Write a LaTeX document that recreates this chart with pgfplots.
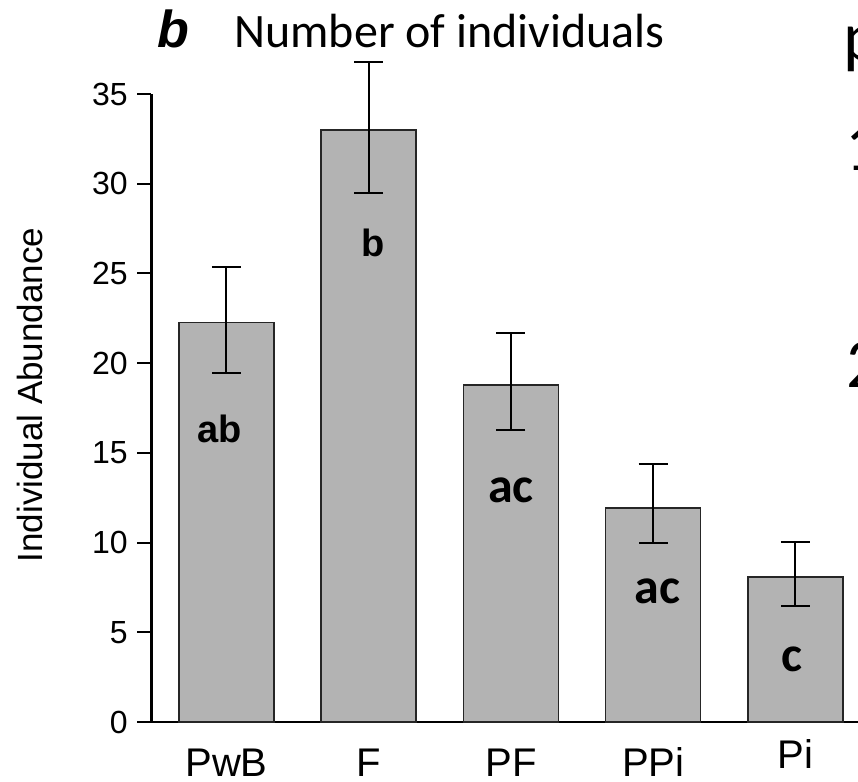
\documentclass[border=0pt]{standalone}
\usepackage{fontspec}
\setmainfont{Liberation Sans}
\newfontfamily\carlito{Carlito}
\usepackage{pgfplots}
\pgfplotsset{compat=1.18}
\definecolor{barfill}{RGB}{179,179,179}
\begin{document}
\begin{tikzpicture}
\useasboundingbox (0,0) rectangle (429pt,-391pt);
\begin{axis}[
  at={(75.75pt,-361pt)}, anchor=south west,
  scale only axis, width=364.6pt, height=314pt,
  xmin=-0.527, xmax=4.6, ymin=0, ymax=35,
  clip=false,
  axis x line=bottom, axis y line=left,
  axis line style={-, line width=1.1pt, black},
  xtick={0,1,2,3,4}, xticklabels={PwB,F,PF,PPi,\raisebox{4pt}{Pi}},
  ytick={0,5,...,35},
  x tick style={draw=none},
  y tick style={line width=1pt, black},
  tick align=outside, major tick length=7pt,
  /pgf/number format/assume math mode=true,
  yticklabel style={font=\fontsize{16}{16}\selectfont, anchor=east, inner sep=0pt, xshift=-4.75pt},
  xticklabel style={font=\fontsize{20}{20}\selectfont, anchor=base, inner sep=0pt, yshift=-20pt},
  ylabel={Individual Abundance},
  every axis y label/.style={at={(rel axis cs:-0.1666,0.5207)}, rotate=90, anchor=center, font=\fontsize{17.5}{17.5}\selectfont},
]
\addplot[ybar, bar width=47.5pt, fill=barfill, draw=black!85, line width=0.8pt,
  error bars/.cd, y dir=both, y explicit,
  error bar style={line width=1pt, black},
  error mark options={rotate=90, line width=1pt, mark size=7.25pt, black}]
  coordinates {
    (0,22.27) += (0,3.08) -= (0,2.82)
    (1,33.00) += (0,3.78) -= (0,3.50)
    (2,18.78) += (0,2.90) -= (0,2.51)
    (3,11.93) += (0,2.45) -= (0,1.95)
    (4,8.08)  += (0,1.95) -= (0,1.62)
  };
\node[anchor=base, inner sep=0pt, font=\fontsize{19}{19}\selectfont\bfseries] at (axis cs:-0.046,15.55) {ab};
\node[anchor=base, inner sep=0pt, font=\fontsize{19}{19}\selectfont\bfseries] at (axis cs:1.033,25.92) {b};
\node[anchor=base, inner sep=0pt, font=\carlito\fontsize{25}{25}\selectfont\bfseries] at (axis cs:2,12.26) {ac};
\node[anchor=base, inner sep=0pt, font=\carlito\fontsize{25}{25}\selectfont\bfseries] at (axis cs:3.03,6.58) {ac};
\node[anchor=base, inner sep=0pt, font=\carlito\fontsize{25}{25}\selectfont\bfseries] at (axis cs:3.975,2.79) {c};
\end{axis}
\node[anchor=base west, inner sep=0pt, font=\fontsize{26}{26}\selectfont\bfseries\itshape] at (78.5pt,-23.5pt) {b};
\node[anchor=base west, inner sep=0pt, font=\carlito\fontsize{24}{24}\selectfont] at (117pt,-23.5pt) {Number of individuals};
\node[anchor=base west, inner sep=0pt, font=\carlito\fontsize{35}{35}\selectfont] at (421.5pt,-30pt) {p};
\node[anchor=base west, inner sep=0pt, font=\carlito\fontsize{35}{35}\selectfont] at (422.5pt,-85pt) {1};
\node[anchor=base west, inner sep=0pt, font=\carlito\fontsize{35}{35}\selectfont] at (423pt,-193.5pt) {2};
\end{tikzpicture}
\end{document}
